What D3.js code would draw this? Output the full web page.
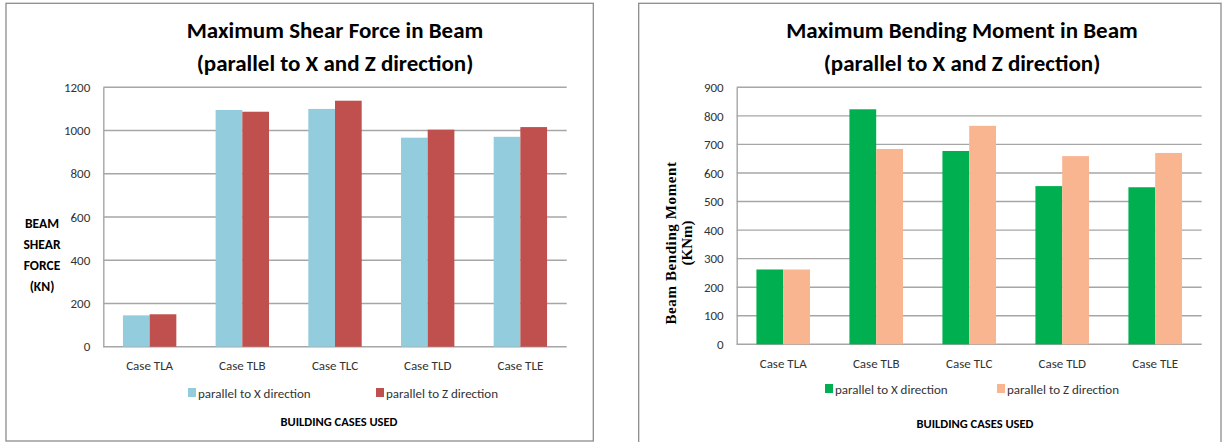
<!DOCTYPE html>
<html><head><meta charset="utf-8">
<script src="https://cdn.jsdelivr.net/npm/d3@7"></script>
<style>
html,body{margin:0;padding:0;background:#fff;}
svg{display:block;}
</style></head>
<body>
<svg id="chart" width="1223" height="442"></svg>
<script>
const categories = ["Case TLA","Case TLB","Case TLC","Case TLD","Case TLE"];
const seriesNames = ["parallel to X direction","parallel to Z direction"];
const shearX = [145, 1095, 1100, 967, 971];
const shearZ = [150, 1087, 1138, 1004, 1016];
const momentX = [262, 823, 677, 554, 550];
const momentZ = [262, 684, 765, 659, 670];
const shearTicks = [0,200,400,600,800,1000,1200];
const momentTicks = [0,100,200,300,400,500,600,700,800,900];

const svg = d3.select("#chart");
const FONT = "Carlito, Lato, 'Open Sans', sans-serif";

function panel(cfg){
  const g = svg.append("g");
  g.append("rect").attr("x",cfg.frame[0]).attr("y",cfg.frame[1])
    .attr("width",cfg.frame[2]).attr("height",cfg.frame[3])
    .attr("fill","#fff").attr("stroke","#8c8c8c").attr("stroke-width",1.3);
  const x = d3.scaleBand().domain(categories).range([cfg.left,cfg.right]).paddingInner(0.424).paddingOuter(0.212);
  const xs = d3.scaleBand().domain([0,1]).range([0,x.bandwidth()]);
  const y = d3.scaleLinear().domain([0,cfg.max]).range([cfg.bottom,cfg.top]);
  g.append("g").selectAll("line").data(cfg.ticks).join("line")
    .attr("x1",cfg.left).attr("x2",cfg.right)
    .attr("y1",d=>y(d)).attr("y2",d=>y(d))
    .attr("stroke","#a6a6a6").attr("stroke-width",1.4);
  const ya = g.append("g").attr("transform",`translate(${cfg.left},0)`)
    .call(d3.axisLeft(y).tickValues(cfg.ticks).tickFormat(d3.format("d")).tickSize(0).tickPadding(cfg.tickPad));
  ya.select(".domain").attr("stroke","#a6a6a6").attr("stroke-width",1.4);
  ya.selectAll("text").attr("font-family",FONT).attr("font-size",13).attr("fill","#333");
  const series = [cfg.a, cfg.b];
  const gs = g.append("g").selectAll("g").data(series).join("g")
    .attr("fill",(d,i)=>cfg.colors[i]);
  gs.selectAll("rect").data((d,i)=>d.map((v,j)=>({v,j,i}))).join("rect")
    .attr("x",d=>x(categories[d.j])+xs(d.i))
    .attr("width",xs.bandwidth())
    .attr("y",d=>y(d.v))
    .attr("height",d=>cfg.bottom-y(d.v));
  const xa = g.append("g").attr("transform",`translate(0,${cfg.bottom})`)
    .call(d3.axisBottom(x).tickSize(0).tickPadding(cfg.catPad));
  xa.select(".domain").remove();
  xa.selectAll("text").attr("font-family",FONT).attr("font-size",13).attr("fill","#333");
  const t = g.append("text").attr("text-anchor","middle").attr("font-family",FONT)
    .attr("font-weight","bold").attr("font-size",cfg.titleSize).attr("fill","#000");
  cfg.title.forEach((s,i)=>t.append("tspan").attr("x",cfg.titleX).attr("y",cfg.titleY+i*33).text(s));
  const lg = g.append("g");
  seriesNames.forEach((s,i)=>{
    lg.append("rect").attr("x",cfg.legX[i]).attr("y",cfg.legY-10).attr("width",8).attr("height",9).attr("fill",cfg.colors[i]);
    lg.append("text").attr("x",cfg.legX[i]+10).attr("y",cfg.legY).attr("font-family",FONT)
      .attr("font-size",13).attr("fill","#333").text(s);
  });
  g.append("text").attr("x",cfg.xTitleX).attr("y",cfg.xTitleY).attr("text-anchor","middle")
    .attr("font-family",FONT).attr("font-weight","bold").attr("font-size",12.5).attr("fill","#000")
    .text("BUILDING CASES USED");
  return g;
}

panel({frame:[6,3.3,587.3,437.7], left:103.3, right:566.7, top:87.3, bottom:346.7, max:1200,
  ticks:shearTicks, a:shearX, b:shearZ, colors:["#93CDDD","#C0504D"], tickPad:13, catPad:14,
  title:["Maximum Shear Force in Beam","(parallel to X and Z direction)"], titleX:335, titleY:38, titleSize:23,
  legX:[188,376], legY:398, xTitleX:339, xTitleY:426});

panel({frame:[638.7,3.3,582.3,445], left:736.7, right:1201.7, top:87.3, bottom:344.3, max:900,
  ticks:momentTicks, a:momentX, b:momentZ, colors:["#00B050","#F8B590"], tickPad:13, catPad:14,
  title:["Maximum Bending Moment in Beam","(parallel to X and Z direction)"], titleX:962, titleY:38, titleSize:23,
  legX:[825,997], legY:394, xTitleX:975, xTitleY:428});

const yl = svg.append("text").attr("text-anchor","middle").attr("font-family",FONT)
  .attr("font-weight","bold").attr("font-size",13.5).attr("fill","#000");
["BEAM","SHEAR","FORCE","(KN)"].forEach((s,i)=>yl.append("tspan").attr("x",42).attr("y",228+i*21).text(s));

const yr = svg.append("text").attr("text-anchor","middle")
  .attr("font-family","'Liberation Serif','Times New Roman',serif").attr("font-weight","bold")
  .attr("font-size",15).attr("fill","#000")
  .attr("transform","translate(0,243) rotate(-90)");
yr.append("tspan").attr("x",0).attr("y",676).attr("letter-spacing",0.6).text("Beam Bending Moment");
yr.append("tspan").attr("x",0).attr("y",692).text("(KNm)");
</script>
</body></html>
